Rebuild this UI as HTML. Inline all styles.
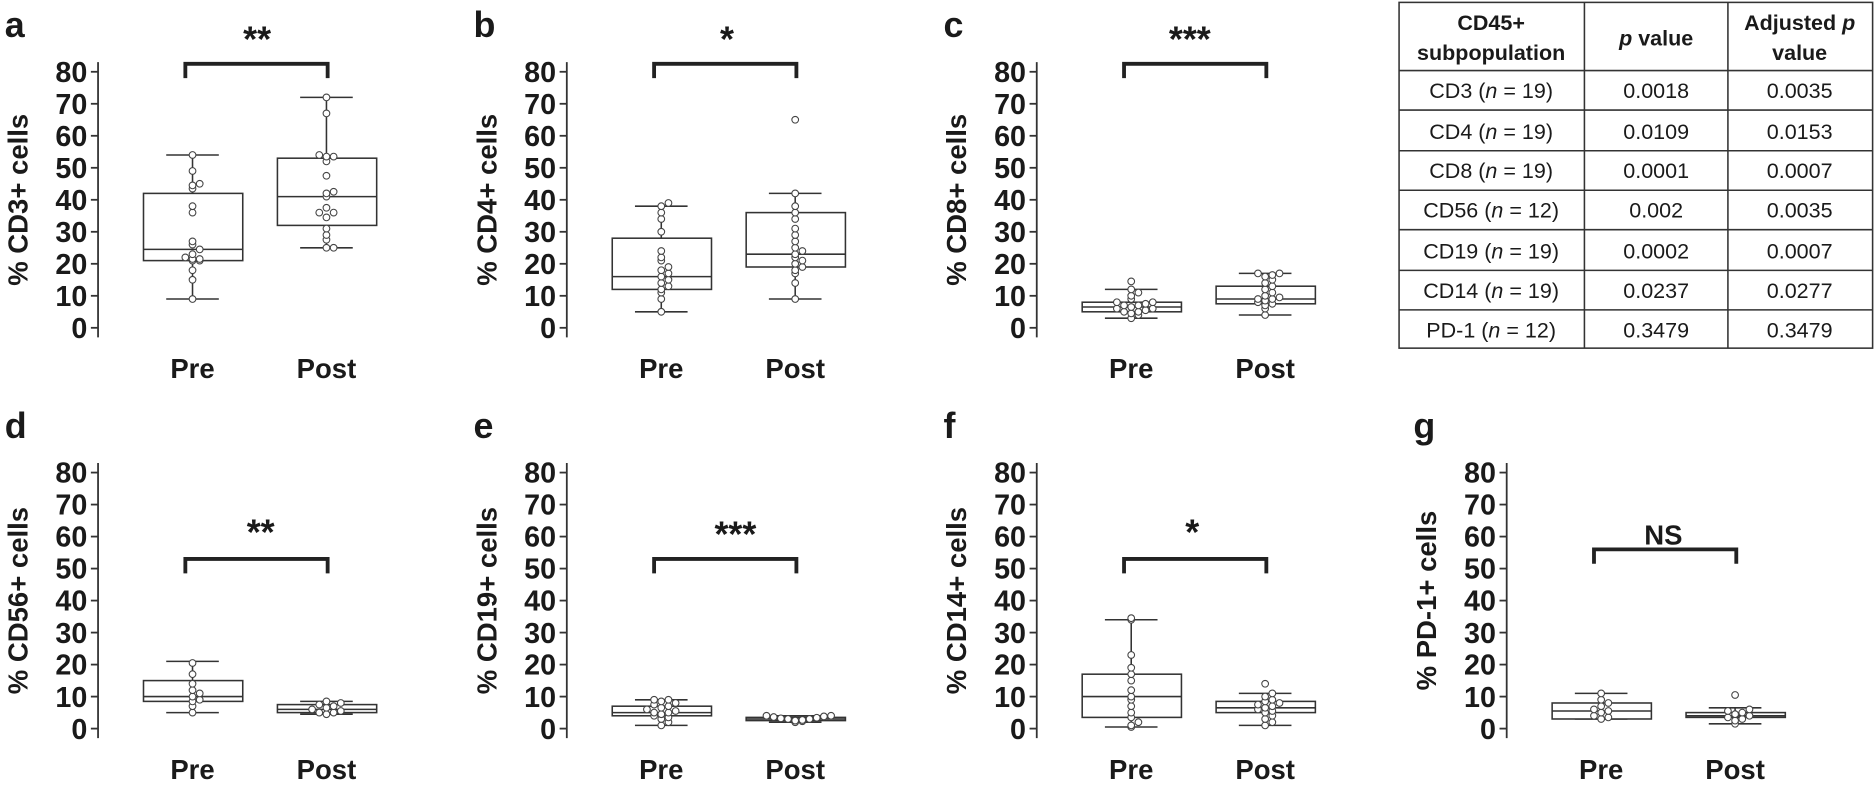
<!DOCTYPE html>
<html><head><meta charset="utf-8"><style>
html,body{margin:0;padding:0;background:#fff;}
svg{display:block;}
text{font-family:"Liberation Sans",sans-serif;fill:#1a1a1a;}
.b{font-weight:bold;}
</style></head><body>
<svg id="s" width="1875" height="792" viewBox="0 0 1568 662" preserveAspectRatio="none" xmlns="http://www.w3.org/2000/svg">
<g id="plots"></g>
<text class="b" x="4" y="31" font-size="30">a</text>
<text class="b" x="396" y="31" font-size="30">b</text>
<text class="b" x="789" y="31" font-size="30">c</text>
<text class="b" x="4" y="366" font-size="30">d</text>
<text class="b" x="396" y="366" font-size="30">e</text>
<text class="b" x="789" y="366" font-size="30">f</text>
<text class="b" x="1182" y="366" font-size="30">g</text>
<text class="b" font-size="23" text-anchor="middle" transform="translate(23,167) rotate(-90)">% CD3+ cells</text>
<text class="b" font-size="23" text-anchor="middle" transform="translate(415,167) rotate(-90)">% CD4+ cells</text>
<text class="b" font-size="23" text-anchor="middle" transform="translate(808,167) rotate(-90)">% CD8+ cells</text>
<text class="b" font-size="23" text-anchor="middle" transform="translate(23,502) rotate(-90)">% CD56+ cells</text>
<text class="b" font-size="23" text-anchor="middle" transform="translate(415,502) rotate(-90)">% CD19+ cells</text>
<text class="b" font-size="23" text-anchor="middle" transform="translate(808,502) rotate(-90)">% CD14+ cells</text>
<text class="b" font-size="23" text-anchor="middle" transform="translate(1201,502) rotate(-90)">% PD-1+ cells</text>
<text class="b" x="215" y="43" font-size="30" text-anchor="middle">**</text>
<text class="b" x="608" y="43" font-size="30" text-anchor="middle">*</text>
<text class="b" x="995" y="43" font-size="30" text-anchor="middle">***</text>
<text class="b" x="218" y="455" font-size="30" text-anchor="middle">**</text>
<text class="b" x="615" y="457" font-size="30" text-anchor="middle">***</text>
<text class="b" x="997" y="455" font-size="30" text-anchor="middle">*</text>
<text class="b" x="1391" y="455" font-size="23" text-anchor="middle">NS</text>
<g font-size="23" text-anchor="middle">
<text x="161" y="316" class="b">Pre</text><text x="273" y="316" class="b">Post</text>
<text x="553" y="316" class="b">Pre</text><text x="665" y="316" class="b">Post</text>
<text x="946" y="316" class="b">Pre</text><text x="1058" y="316" class="b">Post</text>
<text x="161" y="651" class="b">Pre</text><text x="273" y="651" class="b">Post</text>
<text x="553" y="651" class="b">Pre</text><text x="665" y="651" class="b">Post</text>
<text x="946" y="651" class="b">Pre</text><text x="1058" y="651" class="b">Post</text>
<text x="1339" y="651" class="b">Pre</text><text x="1451" y="651" class="b">Post</text>
</g>
<g stroke="#333" stroke-width="1.3" fill="none">
<rect x="1170" y="2" width="396" height="289"/>
<line x1="1325" y1="2" x2="1325" y2="291"/><line x1="1445" y1="2" x2="1445" y2="291"/>
<line x1="1170" y1="59" x2="1566" y2="59"/><line x1="1170" y1="92" x2="1566" y2="92"/>
<line x1="1170" y1="126" x2="1566" y2="126"/><line x1="1170" y1="159" x2="1566" y2="159"/>
<line x1="1170" y1="192" x2="1566" y2="192"/><line x1="1170" y1="226" x2="1566" y2="226"/>
<line x1="1170" y1="259" x2="1566" y2="259"/>
</g>
<g font-size="18" text-anchor="middle">
<text class="b" x="1247" y="25">CD45+</text><text class="b" x="1247" y="50">subpopulation</text>
<text class="b" x="1385" y="38"><tspan font-style="italic">p</tspan> value</text>
<text class="b" x="1505" y="25">Adjusted <tspan font-style="italic">p</tspan></text><text class="b" x="1505" y="50">value</text>
<text x="1247" y="82">CD3 (<tspan font-style="italic">n</tspan> = 19)</text><text x="1385" y="82">0.0018</text><text x="1505" y="82">0.0035</text>
<text x="1247" y="116">CD4 (<tspan font-style="italic">n</tspan> = 19)</text><text x="1385" y="116">0.0109</text><text x="1505" y="116">0.0153</text>
<text x="1247" y="149">CD8 (<tspan font-style="italic">n</tspan> = 19)</text><text x="1385" y="149">0.0001</text><text x="1505" y="149">0.0007</text>
<text x="1247" y="182">CD56 (<tspan font-style="italic">n</tspan> = 12)</text><text x="1385" y="182">0.002</text><text x="1505" y="182">0.0035</text>
<text x="1247" y="216">CD19 (<tspan font-style="italic">n</tspan> = 19)</text><text x="1385" y="216">0.0002</text><text x="1505" y="216">0.0007</text>
<text x="1247" y="249">CD14 (<tspan font-style="italic">n</tspan> = 19)</text><text x="1385" y="249">0.0237</text><text x="1505" y="249">0.0277</text>
<text x="1247" y="282">PD-1 (<tspan font-style="italic">n</tspan> = 12)</text><text x="1385" y="282">0.3479</text><text x="1505" y="282">0.3479</text>
</g>
</svg>
<script>
var NS="http://www.w3.org/2000/svg";
function el(p,t,a){var e=document.createElementNS(NS,t);for(var k in a)e.setAttribute(k,a[k]);p.appendChild(e);return e;}
var g=document.getElementById('plots');
var P=[
 [0,0,[9,54,21,42,24.5],[25,72,32,53,41],[],[9,15,18,21,21,21.5,21.5,22,23,24.5,26,27,36,38,43.5,44.5,45,49,54],[25,25,27.5,29,31,34.5,36,36,37.5,41,42,42.5,47.5,52,53.5,53.5,54,67,72],82.5],
 [392,0,[5,38,12,28,16],[9,42,19,36,23],[65],[5,9,11,12,13,14,15,16,17,18,19,21,22,24,30,34,36,38,39],[9,14,17,18,19,20,21,22,23,24,25,27,29,31,34,36,38,42,65],82.5],
 [785,0,[3,12,5,8,6.5],[4,17,7.5,13,9],[],[3,4,4.5,5,5,5.5,6,6,6.5,7,7,7.5,8,8,9,10,11,12,14.5],[4,6,7,7.5,8,8.5,9,9,9.5,10,11,12,13,14,15,16,16.5,17,17],82.5],
 [0,335,[5,21,8.5,15,10],[4.5,8.5,5,7.5,6],[],[5,7,8.5,9,10,11,12,14,17,20.5],[4.5,5,5,5.5,6,6.5,7,7.5,8,8.5],53],
 [392,335,[1,9,4,7,5],[2,4,2.5,3.5,3],[],[1,2,3,3.5,4,4.5,5,5,5.5,6,6.5,7,7.5,8,8.5,9,9],[2,2.3,2.5,2.7,3,3,3.2,3.4,3.6,3.8,4,4],53],
 [785,335,[0.5,34,3.5,17,10],[1,11,5,8.5,6.5],[],[0.5,1,2,3.5,5,7,9,10,12,15,17,19,23,34,34.5],[1,2,3,4,5,5.5,6,6.5,7,7.5,8,8.5,9,10,11,14],53],
 [1178,335,[3,11,3,8,5.5],[1.5,6.5,3.5,5,4],[],[3,3.5,4,5,5.5,6,7,8,9,11],[1.5,2.5,3,3.5,4,4.5,5,5.5,6,10.5],56]
];
P.forEach(function(p){
 var ox=p[0],oy=p[1],ax=82+ox,y0=274+oy,k=2.675;
 function Y(v){return y0-v*k;}
 el(g,'line',{x1:ax,y1:Y(83),x2:ax,y2:Y(0)+8,stroke:'#333','stroke-width':1.5});
 for(var t=0;t<=80;t+=10){
  el(g,'line',{x1:ax-6,y1:Y(t),x2:ax,y2:Y(t),stroke:'#333','stroke-width':1.5});
  var tx=el(g,'text',{x:ax-9,y:Y(t)+8.5,'font-size':24,'text-anchor':'end','font-weight':'bold'});tx.textContent=t;
 }
 [[161,p[2],p[5]],[273,p[3],p[6]]].forEach(function(b,i){
  var cx=b[0]+ox,s=b[1];
  el(g,'line',{x1:cx,y1:Y(s[0]),x2:cx,y2:Y(s[1]),stroke:'#333','stroke-width':1.3});
  el(g,'line',{x1:cx-22,y1:Y(s[0]),x2:cx+22,y2:Y(s[0]),stroke:'#333','stroke-width':1.3});
  el(g,'line',{x1:cx-22,y1:Y(s[1]),x2:cx+22,y2:Y(s[1]),stroke:'#333','stroke-width':1.3});
  el(g,'rect',{x:cx-41,y:Y(s[3]),width:83,height:Y(s[2])-Y(s[3]),fill:'#fff',stroke:'#333','stroke-width':1.3});
  el(g,'line',{x1:cx-41,y1:Y(s[4]),x2:cx+42,y2:Y(s[4]),stroke:'#333','stroke-width':1.3});
  var used={};
  b[2].forEach(function(v){var yy=Y(v),key=Math.round(yy/5);var n=used[key]||0;used[key]=n+1;
   var dx=(n%2?1:-1)*Math.ceil(n/2)*6;
   el(g,'circle',{cx:cx+dx,cy:yy,r:2.8,fill:'#fff',stroke:'#444','stroke-width':0.9});});
 });
 var by=Y(p[7]);
 el(g,'path',{d:'M'+(155+ox)+' '+(by+12)+' V'+by+' H'+(274+ox)+' V'+(by+12),fill:'none',stroke:'#222','stroke-width':3.2});
});
</script>
</body></html>
